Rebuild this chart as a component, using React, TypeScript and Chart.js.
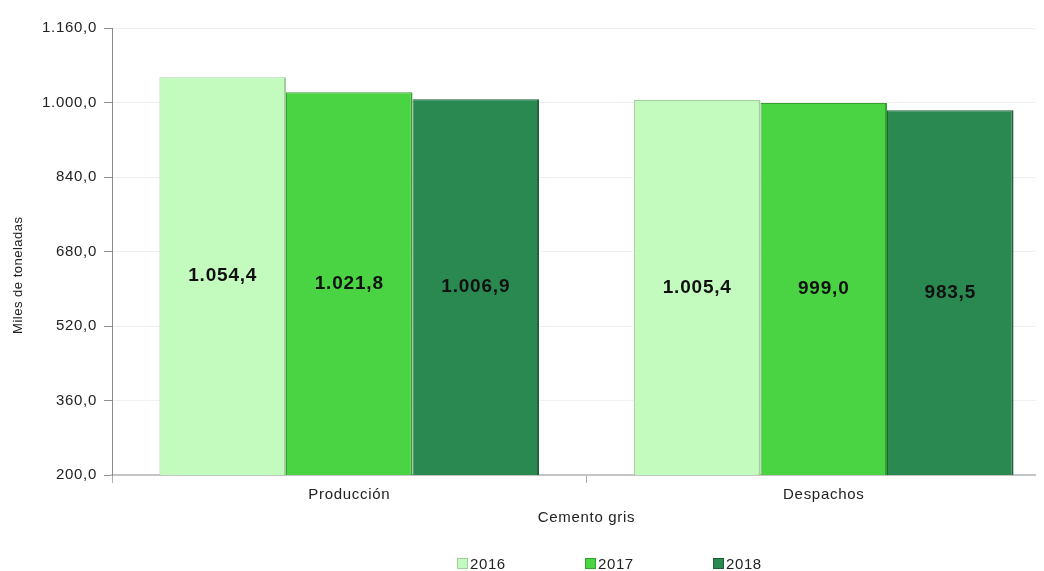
import React, { useEffect, useRef } from "react";
import { Chart, registerables } from "chart.js";

Chart.register(...registerables);

const categories = ["Producción", "Despachos"];
const seriesLabels = ["2016", "2017", "2018"];
const values2016 = [1054.4, 1005.4];
const values2017 = [1021.8, 999.0];
const values2018 = [1006.9, 983.5];
const yMin = 200;
const yMax = 1160;
const yStep = 160;
const yTitle = "Miles de toneladas";
const xTitle = "Cemento gris";

const fillColors = ["#C3FBBE", "#4AD443", "#2A8950"];
const edgeColors = ["#9FCF9B", "#33A030", "#1D5E37"];
const FONT = "'Liberation Sans', Arial, sans-serif";

const fmtNum = (v: number) => {
  const fixed = v.toFixed(1);
  const [intPart, dec] = fixed.split(".");
  const withDots = intPart.replace(/\B(?=(\d{3})+(?!\d))/g, ".");
  return withDots + "," + dec;
};

const spacingPlugin = {
  id: "letterSpacing",
  beforeLayout(chart: any) {
    chart.ctx.letterSpacing = "0.7px";
  },
  beforeDraw(chart: any) {
    chart.ctx.letterSpacing = "0.7px";
  },
};

const labelPlugin = {
  id: "barValueLabels",
  afterDatasetsDraw(chart: any) {
    const ctx = chart.ctx;
    const bottom = chart.chartArea.bottom;
    ctx.save();
    ctx.font = `bold 19px ${FONT}`;
    ctx.letterSpacing = "0.8px";
    ctx.fillStyle = "#111";
    ctx.textAlign = "center";
    ctx.textBaseline = "middle";
    chart.data.datasets.forEach((ds: any, di: number) => {
      const meta = chart.getDatasetMeta(di);
      meta.data.forEach((bar: any, i: number) => {
        const { x, y } = bar.getProps(["x", "y"], true);
        ctx.fillText(fmtNum(ds.data[i]), x, (y + bottom) / 2);
      });
    });
    ctx.restore();
  },
};

const yTitlePlugin = {
  id: "yTitleCustom",
  afterDraw(chart: any) {
    const ctx = chart.ctx;
    const { top, bottom } = chart.chartArea;
    ctx.save();
    ctx.font = `13px ${FONT}`;
    ctx.letterSpacing = "0.5px";
    ctx.fillStyle = "#222";
    ctx.textAlign = "center";
    ctx.textBaseline = "middle";
    ctx.translate(18, top + (bottom - top) * 0.553);
    ctx.rotate(-Math.PI / 2);
    ctx.fillText(yTitle, 0, 0);
    ctx.restore();
  },
};

export default function App() {
  const canvasRef = useRef<HTMLCanvasElement | null>(null);

  useEffect(() => {
    if (!canvasRef.current) return;
    const seriesData = [values2016, values2017, values2018];
    const chart = new Chart(canvasRef.current, {
      type: "bar",
      data: {
        labels: categories,
        datasets: seriesLabels.map((label, i) => ({
          label,
          data: seriesData[i],
          backgroundColor: fillColors[i],
          borderColor: edgeColors[i],
          borderWidth: { top: 1, left: 1, right: 2, bottom: 0 },
          borderSkipped: false,
        })),
      },
      options: {
        animation: false,
        responsive: false,
        maintainAspectRatio: false,
        layout: { padding: { top: 28, bottom: 44, left: 0, right: 3 } },
        plugins: {
          legend: { display: false },
          tooltip: { enabled: false },
        },
        datasets: {
          bar: { categoryPercentage: 0.8, barPercentage: 1.0 },
        },
        scales: {
          x: {
            offset: true,
            grid: {
              display: true,
              drawOnChartArea: false,
              drawTicks: true,
              tickLength: 8,
              color: "#b0b0b0",
              offset: true,
            },
            border: { display: true, color: "#c4c4c4", width: 2 },
            ticks: {
              color: "#222",
              font: { family: FONT, size: 15 },
              padding: 3,
            },
            title: {
              display: true,
              text: xTitle,
              color: "#222",
              font: { family: FONT, size: 15 },
              padding: { top: 2, bottom: 0 },
            },
          },
          y: {
            min: yMin,
            max: yMax,
            afterFit(scale: any) {
              scale.width = 112;
            },
            ticks: {
              stepSize: yStep,
              color: "#222",
              font: { family: FONT, size: 15 },
              padding: 7,
              callback: (v: any) => fmtNum(Number(v)),
            },
            grid: {
              color: "#f0f0f0",
              tickColor: "#909090",
              tickLength: 8,
            },
            border: { display: true, color: "#8a8a8a", width: 1 },
            title: { display: false, text: yTitle },
          },
        },
      },
      plugins: [spacingPlugin, labelPlugin, yTitlePlugin],
    });
    return () => chart.destroy();
  }, []);

  const legendLeft = [457, 585, 713];

  return (
    <div
      style={{
        position: "relative",
        margin: "-8px 0 0 -8px",
        width: 1044,
        height: 571,
        overflow: "hidden",
        background: "#fff",
      }}
    >
      <canvas
        ref={canvasRef}
        width={1064}
        height={571}
        style={{ position: "absolute", left: 0, top: 0, width: 1064, height: 571 }}
      />
      {seriesLabels.map((label, i) => (
        <div
          key={label}
          style={{
            position: "absolute",
            left: legendLeft[i],
            top: 554,
            height: 18,
            display: "flex",
            alignItems: "center",
            fontFamily: FONT,
            fontSize: 15,
            letterSpacing: "0.6px",
            color: "#222",
          }}
        >
          <span
            style={{
              display: "inline-block",
              width: 9,
              height: 9,
              background: fillColors[i],
              border: `1px solid ${edgeColors[i]}`,
              marginRight: 2,
            }}
          />
          {label}
        </div>
      ))}
    </div>
  );
}
